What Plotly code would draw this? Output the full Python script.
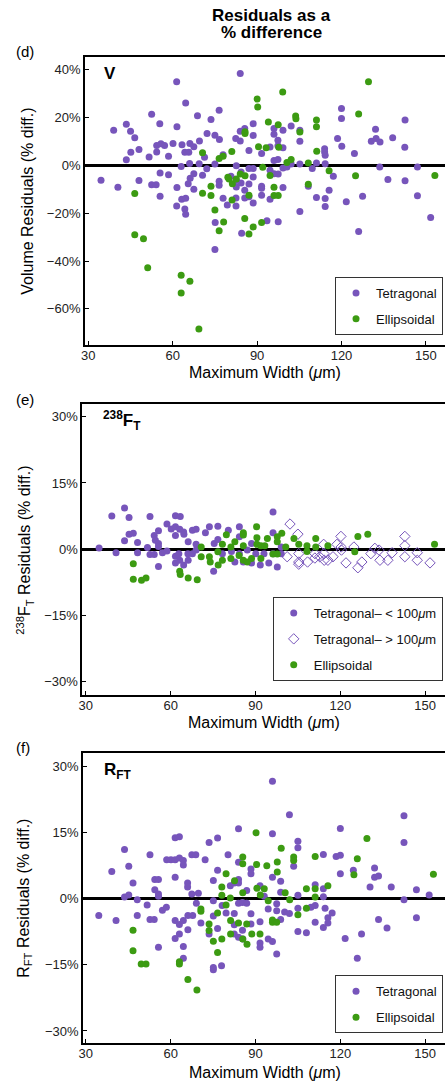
import plotly.graph_objects as go

# ---------------- DATA ----------------
# Panel (d): Volume residuals (% diff.)
v_tet_x = [34.5, 39, 40.5, 43.5, 43.5, 45, 45.1, 46.5, 48, 48, 51.6, 52.5, 52.5, 54.1, 54.3, 54.3, 55.4, 55.5, 55.5, 55.8,
           57.1, 58.5, 58.5, 60.1, 61.4, 61.5, 61.5, 61.4, 63, 63.3, 63.2, 64.3, 64.6, 64.6, 64.3, 64.6, 65.7, 65.5, 66, 66.1,
           66.2, 67.5, 67.5, 67.5, 68.8, 69.4, 69.5, 70.6, 71.3, 72.1, 72.2, 73.6, 75, 75, 75.1, 75, 76.5, 76.6, 76.5, 76.5,
           77.9, 77.9, 79.4, 80.7, 82.4, 82.6, 82.6, 82.6, 82.5, 82.5, 84, 84, 84, 84.3, 84.3, 84.5, 85.6, 85.6, 85.6, 87.1,
           87.1, 87.1, 87.1, 88.6, 88.6, 88.6, 88.6, 88.6, 91.6, 91.6, 91.6, 91.6, 93.5, 94.6, 94.6, 94.6, 96, 96, 96, 96,
           97.4, 97.4, 97.4, 97.5, 97.5, 99.2, 99.2, 99.2, 99.2, 100.6, 102.1, 102.1, 105.2, 105.2, 105.2, 105.2, 108.2, 109.6, 111.1, 111.1,
           114, 114, 114.2, 114.2, 114.2, 114.2, 115.6, 117.1, 118.6, 120, 120, 120.1, 121.7, 124.6, 126.1, 127.5, 130.6, 132.1, 132.3, 133.6,
           133.7, 136.5, 138.2, 142.6, 142.5, 142.6, 147, 147, 151.7]
v_tet_y = [-6.2, 14.8, -9.1, 17.3, 2.4, 14.3, 5.5, 11.6, 6.7, -6.3, 3.6, 21.4, -8.1, -8.1, 8.4, 5.7, 17.5, -3.1, -12.9, 9.1,
           8.4, 3.9, -3.9, 9.2, 35, 16.2, -9.2, -16.9, -0.4, 8.7, -14.1, 5.5, 26.2, -13.7, -18.2, -20.4, 5.5, -7.6, 0.8, 9.2,
           -5.3, 7.8, -3.4, -9.9, 20.8, 0.7, 10.3, -4.1, 3.5, -1.4, 13.4, 19.2, 12.7, 0.6, -23.8, -35.1, 23.1, 10.9, -6.6, -8.3,
           4.5, -13.7, -16.5, -4.5, 11.3, -0.1, -6.3, -9.0, -16.9, -13.6, 38.5, 14.3, 10.3, -2.7, -7.3, -28.3, 15.5, -10.3, -13.6, 6.3,
           -1.3, -7.7, -13.1, 17.5, 12.6, -1.3, -4.8, -15.7, 5.0, -8.7, -9.5, -12.4, -23.1, 7.7, -2.0, -14.1, 15.5, 13.1, 2.1, -3.4,
           10.6, 8.3, 2.5, -3.6, -23.5, 14.8, 7.4, -1.0, -9.2, -0.6, 16.5, 0.6, 14.7, 10.1, 0.6, -19.2, -8.7, -1.3, 1.0, -13.4,
           7.0, 5.7, 4.3, 0.7, -13.8, -17.2, -10.3, -4.5, 11.3, 23.9, 19.7, 8.1, -15.2, 5.0, -27.6, -12.9, 10.1, 15.2, 11.3, -0.6,
           9.8, -5.9, 11.6, 19.0, 7.6, -6.4, -0.6, -12.7, -21.8]
v_ell_x = [46.5, 46.5, 49.6, 51.1, 63, 63, 66.1, 69.3, 70.6, 70.6, 73.6, 73.6, 75, 76.5, 76.5, 77.9, 78.1, 79.6, 80, 81,
           81.1, 81.2, 82.6, 84, 85.7, 85.7, 85.6, 85.7, 87.1, 87.1, 88.6, 90, 90.2, 90.5, 91.6, 92, 93.2, 94, 94.6, 96,
           96, 97.5, 97.5, 97.7, 99.1, 100.6, 102.1, 103.7, 103.8, 105.2, 108.2, 108.2, 111.1, 111.1, 111.2, 115.6, 125, 126.1, 129.6, 153.2]
v_ell_y = [-11.7, -29, -30.6, -42.8, -45.9, -53.3, -48.4, -68.4, 5.3, -11.6, -8.7, -12.6, -18.6, 2.9, -27.3, 3.9, -23.6, -4.9, -5.6, 5.9,
           -14.4, -7.6, -5.6, -3.6, 14.1, 13.4, -22.2, -4.3, -12.4, -28.7, -25.7, 27.8, 24.5, 7.8, -23.8, -0.7, 7.4, 18.2, -4.2, -9.1,
           -12.6, 17.1, -12.6, 7.6, 30.8, 1.3, 2.5, 20.7, 19.6, 14.0, 1.0, -7.8, 19.0, 16.2, 6.0, -2.2, -4.3, 21.5, 35.0, -4.2]

# Panel (e): 238FT residuals (% diff.)
ft_small_x = [34.7, 39.2, 40.7, 43.7, 43.7, 45.3, 45.3, 46.8, 48.3, 48.3, 51.8, 52.7, 52.7, 54.2, 54.2, 54.6, 55.7, 55.7, 55.7, 55.7,
              57.1, 58.7, 58.7, 60.2, 61.7, 61.7, 61.7, 61.7, 61.7, 63.4, 63.2, 63.2, 62.9, 64.6, 64.7, 64.6, 66.2, 66.2, 66.1, 67.7,
              67.7, 69, 69, 69, 72.3, 73.7, 75.2, 75.4, 76.7, 76.7, 78.3, 80.4, 81.5, 82.7, 84.3, 84.3, 84.3, 85.7, 87.1, 88.6,
              88.6, 90.1, 91.7, 93, 94.7, 96.2, 96.2, 96.2, 97.7, 99.1, 99.1]
ft_small_y = [0.3, 7.5, -0.8, 9.3, 1.9, 7.2, 3.4, 3.6, 1.5, -0.8, 0.4, 7.4, -1.2, -1.2, 3.1, 2.0, 4.2, 1.3, 0.6, -3.9,
              -0.8, 5.7, -0.4, 4.6, 7.6, 5.1, 3.1, -1.6, -3.1, 7.4, 4.5, -2.5, -1.0, 3.9, 3.4, -3.6, 1.7, -2.5, -1.0, 4.3,
              -1.0, 4.5, 1.1, -0.2, 3.7, 5.1, -5.0, 1.3, 5.2, 2.2, -1.0, 4.3, -0.5, -2.9, 5.1, 2.8, -1.0, -2.9, -0.2, 1.3,
              -3.1, -1.0, -3.6, -1.0, -3.1, 8.4, 3.7, -1.0, -4.0, -1.0, 0.5]
ft_large_x = [102.2, 105, 105.3, 105.3, 105.3, 101.2, 108.4, 111, 111, 112.7, 114.1, 114.2, 114.3, 115.6, 117.4, 118.8, 120.2, 120.3,
              120.4, 122, 124.8, 126.2, 127.6, 130.8, 132.2, 133.7, 134, 136.8, 138.3, 142.8, 142.8, 142.8, 147.2, 147.2, 151.7]
ft_large_y = [5.7, 3.4, -1.0, -2.9, -3.4, -1.7, -2.9, -1.0, -2.0, -1.7, 1.1, -1.0, -2.5, -2.5, -1.7, 1.1, 2.9, 0.5,
              -0.2, -3.1, 0.5, -4.2, -2.9, -1.0, 0.2, -0.2, -2.5, -2.5, -0.8, 2.9, 0.8, -1.7, -0.8, -2.5, -3.1]
ft_ell_x = [46.8, 46.8, 49.7, 51.3, 63.2, 63.4, 66.2, 69.4, 70.8, 70.8, 73.7, 74, 76.7, 76.8, 78.3, 78.3, 79.7, 81.3, 81.3, 82.7,
            84.2, 85.7, 85.7, 85.7, 85.7, 87.1, 88.6, 90.4, 90.5, 90.5, 91.9, 91.9, 93.3, 94.2, 96.2, 97.7, 97.7, 97.7, 99.3, 100.7,
            103.6, 105.3, 108.2, 108.2, 111.3, 111.3, 115.6, 125.1, 126.2, 129.7, 153.3]
ft_ell_y = [-3.3, -6.8, -7.0, -6.5, -5.0, -5.7, -6.5, -6.9, 0.5, -1.7, -1.7, -2.9, -0.6, -3.6, 1.1, -2.5, 3.3, 0.5, -2.1, 1.7,
            -1.4, 3.7, 3.2, 0.8, -2.5, -2.9, -2.1, 5.1, 2.6, 1.1, 0.8, -2.1, 0.8, 2.4, -1.1, 2.8, 1.7, -1.1, 3.6, 0.5,
            2.4, 1.1, 0.8, -0.5, 2.4, 0.5, 0.8, -0.6, 2.9, 3.4, 1.1]

# Panel (f): RFT residuals (% diff.)
r_tet_x = [34.6, 39.2, 40.7, 43.7, 43.7, 45.2, 45.2, 46.7, 48.2, 48.2, 51.7, 52.7, 52.7, 54.2, 54.4, 54.4, 55.7, 55.7, 55.7, 55.7,
           57.1, 58.5, 58.6, 60.1, 61.6, 61.6, 61.6, 61.6, 61.6, 63.1, 63.1, 63.1, 63.1, 64.5, 64.5, 64.5, 64.5, 64.5, 66, 66,
           66.1, 66.1, 67.5, 67.5, 67.8, 68.9, 69.1, 69.8, 70.7, 72.2, 73.6, 73.6, 75.1, 75.1, 75.1, 75.1, 75.1, 76.6, 76.6, 76.6,
           78, 78.2, 79.6, 80.3, 81.1, 82.5, 82.5, 82.5, 82.5, 84, 84, 84, 84, 84, 84, 85.4, 85.4, 85.5, 86.9, 86.9,
           88.4, 88.4, 88.4, 88.4, 91.6, 91.6, 91.6, 91.6, 93.1, 94.5, 94.5, 96, 96, 96, 96, 97.5, 97.5, 97.5, 98.9, 98.9,
           98.9, 100.3, 102, 102, 103.5, 105, 105, 105, 105, 105, 108, 109.6, 111.1, 111.1, 111.1, 114, 114, 114, 114, 114.6,
           115.6, 115.6, 117.1, 118.5, 120, 120, 120, 121.7, 124.6, 126, 127.5, 130.5, 132.1, 132.1, 133.5, 133.5, 136.5, 138, 142.5, 142.5,
           142.5, 146.9, 146.9, 151.4]
r_tet_y = [-3.8, 6.2, -4.9, 11.2, 0.4, 7.4, 0.9, 3.6, -0.2, -3.8, -1.4, 10.0, -4.7, -4.7, 4.4, 2.1, 4.4, 1.1, 0.6, -11.0,
           -2.6, -1.9, 8.9, 8.9, 4.9, 8.9, 13.9, -4.9, -9.0, 14.1, 9.3, -5.8, -8.0, 8.7, 7.7, -4.9, -10.8, -13.5, 3.6, 2.7,
           -3.8, -7.0, 10.0, 1.1, -3.8, 10.0, -1.0, 1.3, -5.5, 8.9, 12.8, -8.0, 4.2, -0.4, -3.9, -15.6, -16.1, 13.8, 6.5, -6.7,
           -15.2, -1.5, -3.2, 10.0, 3.0, 3.6, -3.3, -5.9, -8.0, 15.9, 8.3, 4.4, 3.6, -1.0, -8.7, -0.8, -7.1, -9.1, 1.9, -1.0,
           6.8, 5.7, -3.4, -5.7, 3.0, -5.2, -10.0, -11.0, 0.6, -2.3, -9.1, 26.7, 14.8, 4.9, -9.7, -1.1, -2.7, -12.5, 4.0, 1.5,
           -4.7, -3.0, 19.1, -3.3, 7.4, 13.1, 11.6, 0.8, -2.1, -7.4, -7.7, -1.9, 3.2, -1.5, -5.3, 10.1, 2.3, 0.5, -6.5, -2.1,
           -4.3, -5.5, -3.2, 9.6, 9.9, 16.0, 5.7, -9.0, 6.5, -13.5, -8.0, 2.7, 7.0, 4.9, 5.2, -4.7, -6.6, 2.7, 18.9, 12.8,
           -0.2, 2.1, -4.3, 0.9]
r_ell_x = [46.7, 46.7, 49.6, 51.3, 63.1, 63.1, 66.1, 69.3, 70.7, 70.7, 73.6, 73.6, 75.1, 76.6, 76.6, 78.1, 78.1, 78.1, 79.6, 79.6,
           81.1, 81.2, 81.2, 82.6, 84, 85.5, 85.5, 85.5, 85.5, 86.9, 87, 88.7, 90.2, 90.4, 90.5, 91.7, 91.6, 93.1, 94, 94.5,
           96, 96, 97.5, 97.7, 97.7, 99.1, 100.5, 102.1, 103.5, 103.5, 105, 108, 108, 111.1, 111.1, 111.1, 115.6, 124.8, 126, 129.4, 152.9]
r_ell_y = [-7.1, -11.8, -14.8, -14.8, -14.3, -14.8, -18.3, -20.7, -2.3, -2.8, -5.7, -7.2, -9.6, -3.2, -12.2, 0.8, 2.7, -9.1, 5.7, -1.4,
           0.2, -4.9, -8.0, 4.1, -5.5, 9.5, 8.0, 1.4, -9.1, -5.7, -10.3, -8.0, 15.0, 7.8, 2.4, 0.9, -8.0, 2.3, 7.5, -0.4,
           -4.8, -5.3, -5.3, 8.4, 6.1, 11.5, 1.4, -0.2, 9.5, 8.7, -3.6, 2.3, -2.1, 9.6, 2.3, 0.4, 3.0, 5.5, 9.1, 13.7, 5.6]

x_ticks = [30, 60, 90, 120, 150]
v_ticks = [-60, -40, -20, 0, 20, 40]
v_ticktext = ["−60%", "−40%", "−20%", "0%", "20%", "40%"]
ft_ticks = [-30, -15, 0, 15, 30]
ft_ticktext = ["−30%", "−15%", "0%", "15%", "30%"]

# ---------------- STYLE ----------------
PURPLE = "#7755BB"
GREEN = "#3C9B12"
FONT = "Liberation Sans, Arial, Helvetica, sans-serif"
W, H = 445, 1086

def px(x):
    return x / W

def py(y):
    return 1 - y / H

fig = go.Figure()

def dot(x, y, color, name, xa, ya, leg, grp):
    fig.add_trace(go.Scatter(
        x=x, y=y, mode="markers", name=name, xaxis=xa, yaxis=ya, legend=leg, legendgroup=grp,
        marker=dict(color=color, size=7, line=dict(width=0)), hoverinfo="skip"))

dot(v_tet_x, v_tet_y, PURPLE, "Tetragonal", "x", "y", "legend", "a")
dot(v_ell_x, v_ell_y, GREEN, "Ellipsoidal", "x", "y", "legend", "b")

dot(ft_small_x, ft_small_y, PURPLE, "Tetragonal– < 100<i>μ</i>m", "x2", "y2", "legend2", "c")
fig.add_trace(go.Scatter(
    x=ft_large_x, y=ft_large_y, mode="markers", name="Tetragonal– > 100<i>μ</i>m", xaxis="x2", yaxis="y2",
    legend="legend2", legendgroup="d",
    marker=dict(symbol="diamond-open", color=PURPLE, size=8, line=dict(width=1, color=PURPLE)), hoverinfo="skip"))
dot(ft_ell_x, ft_ell_y, GREEN, "Ellipsoidal", "x2", "y2", "legend2", "e")

dot(r_tet_x, r_tet_y, PURPLE, "Tetragonal", "x3", "y3", "legend3", "f")
dot(r_ell_x, r_ell_y, GREEN, "Ellipsoidal", "x3", "y3", "legend3", "g")

# panel geometry in pixels: (left, top, bottom), x range, y range
panels = [
    dict(l=81, t=57, b=345, xr=[28.84, 156.8], yr=[-75.1, 45.4], yt=v_ticks, ytt=v_ticktext),
    dict(l=78.3, t=404.3, b=695, xr=[28.81, 157.0], yr=[-33.0, 32.8], yt=ft_ticks, ytt=ft_ticktext),
    dict(l=79, t=752.7, b=1043.3, xr=[29.06, 157.0], yr=[-32.8, 33.2], yt=ft_ticks, ytt=ft_ticktext),
]

axis_common = dict(showgrid=False, showline=True, linecolor="black", linewidth=2,
                   ticks="inside", ticklen=4, tickwidth=1, tickcolor="black",
                   tickfont=dict(family=FONT, size=13, color="#222"))
layout = {}
for i, p in enumerate(panels):
    s = "" if i == 0 else str(i + 1)
    layout["xaxis" + s] = dict(axis_common, domain=[px(p["l"]), 1.0], range=p["xr"],
                               anchor="y" + s, tickmode="array", tickvals=x_ticks,
                               ticktext=[str(t) for t in x_ticks], ticklabelstandoff=-3,
                               mirror=True, zeroline=False)
    layout["yaxis" + s] = dict(axis_common, domain=[py(p["b"]), py(p["t"])], range=p["yr"],
                               anchor="x" + s, tickmode="array", tickvals=p["yt"], ticktext=p["ytt"],
                               zeroline=True, zerolinecolor="black", zerolinewidth=3)

legend_common = dict(bgcolor="white", bordercolor="#333", borderwidth=1,
                     font=dict(family=FONT, size=13, color="#111"),
                     xanchor="right", yanchor="bottom", traceorder="grouped", tracegroupgap=6)
layout["legend"] = dict(legend_common, x=px(443), y=py(335))
layout["legend2"] = dict(legend_common, x=px(442.7), y=py(681))
layout["legend3"] = dict(legend_common, x=px(443), y=py(1033.3))

ann = []
def text(x, y, t, size=13, bold=False, angle=0, xanchor="center"):
    ann.append(dict(x=px(x), y=py(y), xref="paper", yref="paper", text=("<b>%s</b>" % t) if bold else t,
                    showarrow=False, textangle=angle, xanchor=xanchor, yanchor="middle",
                    font=dict(family=FONT, size=size, color="black")))

text(270, 15, "Residuals as a", 17, True)
text(270, 33, "% difference", 17, True)
text(20, 52, "(d)", 15)
text(20, 400, "(e)", 15)
text(18, 747, "(f)", 15)
text(98, 73, "V", 17, True, xanchor="left")
text(97, 421, "<sup>238</sup>F<sub>T</sub>", 17, True, xanchor="left")
text(98, 771, "R<sub>FT</sub>", 17, True, xanchor="left")
text(22, 201, "Volume Residuals (% diff.)", 16, angle=-90)
text(20, 550, "<sup>238</sup>F<sub>T</sub> Residuals (% diff.)", 16, angle=-90)
text(19, 898, "R<sub>FT</sub> Residuals (% diff.)", 16, angle=-90)
text(263, 372, "Maximum Width (<i>μ</i>m)", 16)
text(262, 722, "Maximum Width (<i>μ</i>m)", 16)
text(263, 1072, "Maximum Width (<i>μ</i>m)", 16)

fig.update_layout(width=W, height=H, margin=dict(l=0, r=0, t=0, b=0),
                  paper_bgcolor="white", plot_bgcolor="white", annotations=ann,
                  font=dict(family=FONT), **layout)

fig.write_html("out.html", config={"displayModeBar": False},
               post_script="document.body.style.margin='0';document.body.style.overflow='hidden';")
